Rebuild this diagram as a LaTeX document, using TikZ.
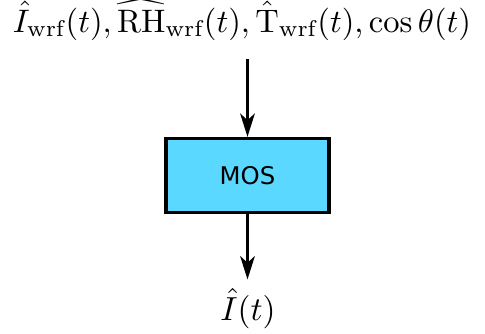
\documentclass[tikz,border=0pt]{standalone}
\usepackage{fontspec}
\newfontfamily\mosfont{DejaVu Sans}
\usetikzlibrary{arrows.meta}
\definecolor{boxcyan}{HTML}{5AD8FF}
\tikzset{
  flow/.style={line width=0.8pt, -{Stealth[length=7pt,width=4.4pt,inset=2pt]}},
  blockbox/.style={draw, line width=1pt, fill=boxcyan, minimum width=48.9pt,
    minimum height=22.2pt, inner sep=0pt, font=\mosfont\fontsize{7.3}{8}\selectfont},
  label/.style={inner sep=0pt}
}
\begin{document}
\begin{tikzpicture}[x=0.3pt,y=-0.3pt]
  \useasboundingbox (0,0) rectangle (485,333);
  \node[label, anchor=base, scale=0.976, transform shape] (inputs) at (242,32)
    {$\hat{I}_{\mathrm{wrf}}(t), \widehat{\mathrm{RH}}_{\mathrm{wrf}}(t), \hat{\mathrm{T}}_{\mathrm{wrf}}(t), \cos\theta(t)$};
  \node[blockbox] (mos) at (247.5,175.5) {MOS};
  \node[label, anchor=base] (output) at (248,320) {$\hat{I}(t)$};
  \draw[flow, shorten <=5.5pt] (inputs.south -| mos.north) -- (mos.north);
  \draw[flow] (mos.south) -- ([yshift=2.5pt]output.north -| mos.south);
\end{tikzpicture}
\end{document}
